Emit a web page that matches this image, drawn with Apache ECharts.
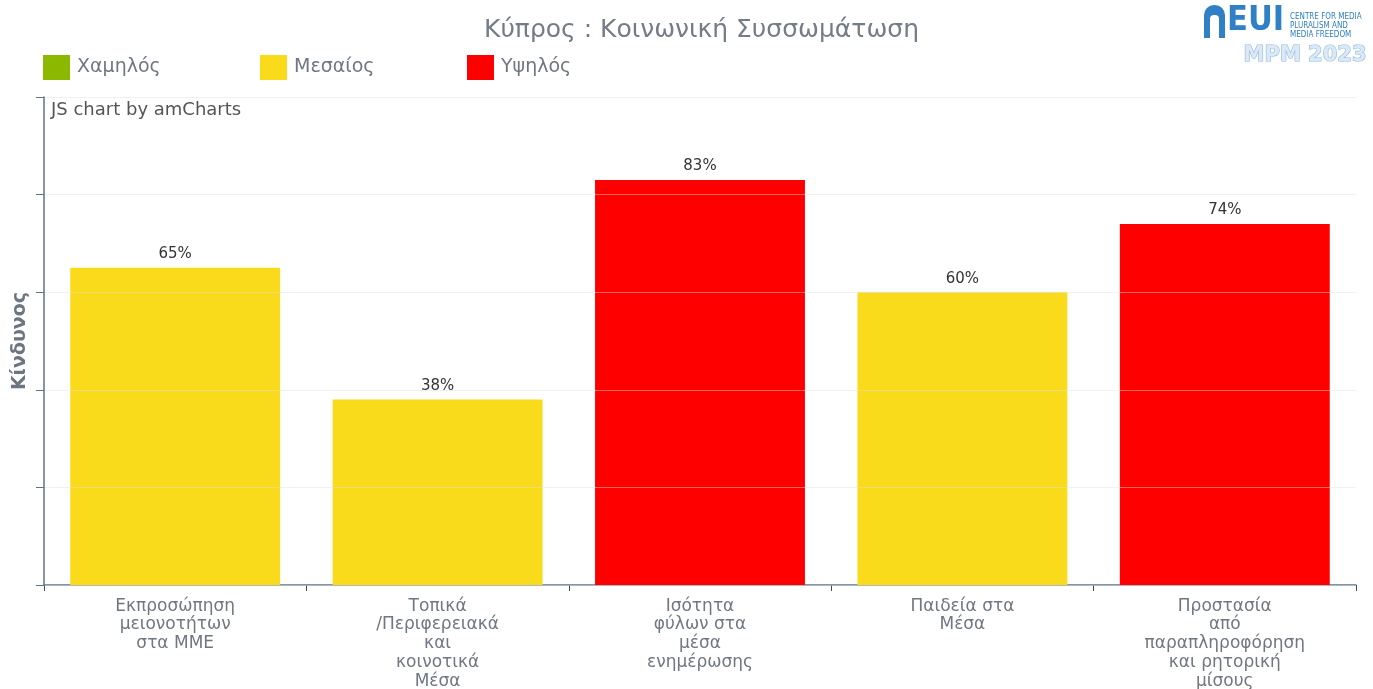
<!DOCTYPE html>
<html>
<head>
<meta charset="utf-8">
<title>Κύπρος : Κοινωνική Συσσωμάτωση</title>
<script src="https://cdn.jsdelivr.net/npm/echarts@6/dist/echarts.min.js"></script>
<style>
  html, body { margin: 0; padding: 0; background: #fff; }
  #chart { width: 1373px; height: 689px; }
</style>
</head>
<body>
<div id="chart"></div>
<script>
// data
var categories = [
  'Εκπροσώπηση\nμειονοτήτων\nστα ΜΜΕ',
  'Τοπικά\n/Περιφερειακά\nκαι\nκοινοτικά\nΜέσα',
  'Ισότητα\nφύλων στα\nμέσα\nενημέρωσης',
  'Παιδεία στα\nΜέσα',
  'Προστασία\nαπό\nπαραπληροφόρηση\nκαι ρητορική\nμίσους'
];
var values = [65, 38, 83, 60, 74];
var levels = ['Μεσαίος', 'Μεσαίος', 'Υψηλός', 'Μεσαίος', 'Υψηλός'];
var levelNames = ['Χαμηλός', 'Μεσαίος', 'Υψηλός'];
var levelColors = ['#8cb800', '#fadb1b', '#ff0000'];
var yTicks = [0, 20, 40, 60, 80, 100];

var font = 'DejaVu Sans, Verdana, sans-serif';
var fontNarrow = 'DejaVu Sans Condensed, DejaVu Sans, Tahoma, sans-serif';
var chart = echarts.init(document.getElementById('chart'));

// one stacked series per risk level, so each bar keeps its slot and the legend works
var series = levelNames.map(function (name, i) {
  return {
    name: name,
    type: 'bar',
    stack: 'risk',
    barCategoryGap: '20%',
    itemStyle: { color: levelColors[i] },
    label: {
      show: true,
      position: 'top',
      distance: 6,
      formatter: '{c}%',
      color: '#333',
      fontFamily: font,
      fontSize: 15
    },
    data: values.map(function (v, k) { return levels[k] === name ? v : '-'; })
  };
});

var legendLeft = [43, 260, 467];

chart.setOption({
  animation: false,
  backgroundColor: '#fff',
  title: {
    text: 'Κύπρος : Κοινωνική Συσσωμάτωση',
    left: 479,
    top: 13,
    textStyle: { color: '#737d86', fontFamily: font, fontSize: 25, fontWeight: 'normal' }
  },
  legend: levelNames.map(function (name, i) {
    return {
      data: [name],
      left: legendLeft[i],
      top: 55,
      padding: 0,
      icon: 'rect',
      itemWidth: 27,
      itemHeight: 25,
      itemGap: 7,
      selectedMode: false,
      textStyle: { color: '#6f7780', fontFamily: font, fontSize: 19, padding: [0, 0, 0, 2] }
    };
  }),
  grid: { left: 44, right: 17, top: 97, bottom: 104, outerBoundsMode: 'none' },
  xAxis: {
    type: 'category',
    data: categories,
    axisLine: { lineStyle: { color: '#5f7387', width: 1.5 } },
    axisTick: { show: true, length: 6, lineStyle: { color: '#2f4f6f' } },
    axisLabel: {
      color: '#6f7780',
      fontFamily: font,
      fontSize: 17,
      lineHeight: 18.7,
      margin: 12,
      interval: 0
    }
  },
  yAxis: {
    type: 'value',
    min: yTicks[0],
    max: yTicks[yTicks.length - 1],
    interval: yTicks[1] - yTicks[0],
    z: 3,
    name: 'Κίνδυνος',
    nameLocation: 'middle',
    nameGap: 14,
    nameTextStyle: { color: '#6b7680', fontFamily: font, fontSize: 19, fontWeight: 'bold' },
    axisLine: { show: true, lineStyle: { color: '#5f7387', width: 1.5 } },
    axisTick: { show: true, length: 8, lineStyle: { color: '#5f7387' } },
    axisLabel: { show: false },
    splitLine: { show: true, lineStyle: { color: 'rgba(225,225,225,0.45)' } }
  },
  graphic: [
    {
      type: 'text', left: 51, top: 101,
      style: { text: 'JS chart by amCharts', fill: '#555', font: '18px ' + font }
    },
    // EUI logo
    {
      type: 'rect', left: 1204, top: 5,
      shape: { width: 21, height: 33, r: [10, 10, 0, 0] },
      style: { fill: '#2f80c4' }
    },
    {
      type: 'rect', left: 1210, top: 15,
      shape: { width: 9, height: 23, r: [4, 4, 0, 0] },
      style: { fill: '#fff' }
    },
    {
      type: 'text', left: 1227, top: 4,
      style: { text: 'EUI', fill: '#2f80c4', font: 'bold 34px ' + fontNarrow }
    },
    {
      type: 'text', left: 1290, top: 12,
      style: {
        text: 'CENTRE FOR MEDIA\nPLURALISM AND\nMEDIA FREEDOM',
        fill: '#2f80c4', font: '8px ' + fontNarrow, lineHeight: 9
      }
    },
    {
      type: 'text', left: 1243, top: 44,
      style: {
        text: 'MPM 2023', fill: '#dbe9f6', stroke: '#8db7df', lineWidth: 1.2,
        font: 'bold 21px ' + font
      }
    }
  ],
  series: series
});
</script>
</body>
</html>
